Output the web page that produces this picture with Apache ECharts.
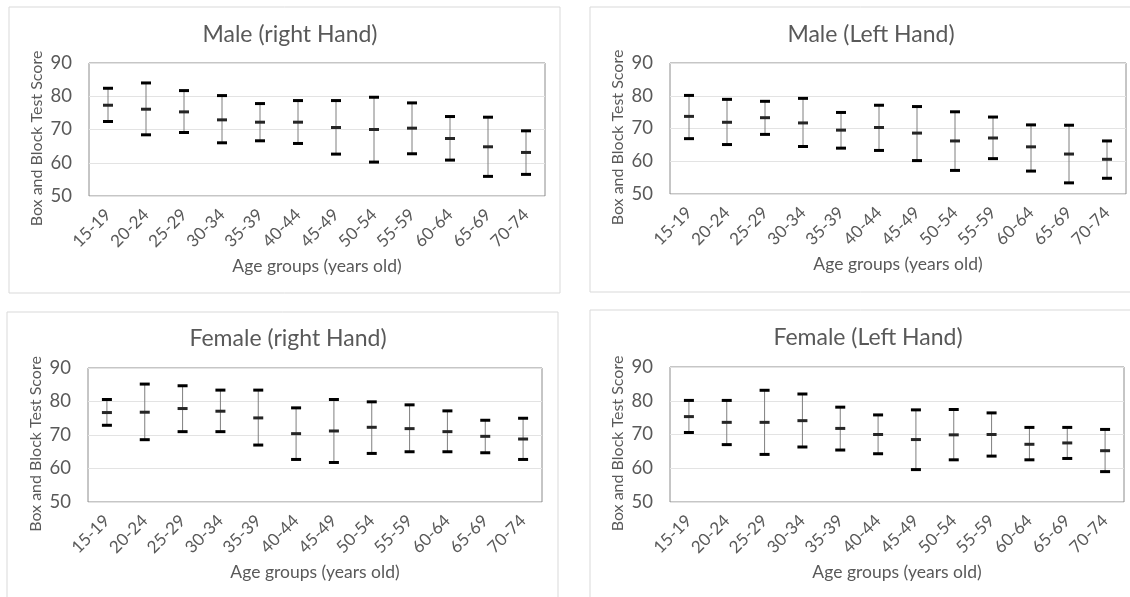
<!DOCTYPE html>
<html>
<head>
<meta charset="utf-8">
<script src="https://cdn.jsdelivr.net/npm/echarts@6/dist/echarts.min.js"></script>
<style>
	html, body { margin: 0; padding: 0; background: #fff; }
	#chart { width: 1130px; height: 597px; }
</style>
</head>
<body>
<div id="chart"></div>
<script>
	var ages = ['15-19', '20-24', '25-29', '30-34', '35-39', '40-44', '45-49', '50-54', '55-59', '60-64', '65-69', '70-74'];
	var yTicks = [50, 60, 70, 80, 90];

	var maleRightUpper = [82.4, 84.0, 81.7, 80.2, 77.8, 78.7, 78.7, 79.7, 78.0, 73.9, 73.7, 69.6];
	var maleRightMean  = [77.3, 76.1, 75.3, 72.9, 72.2, 72.2, 70.6, 70.0, 70.4, 67.3, 64.8, 63.1];
	var maleRightLower = [72.4, 68.4, 69.1, 66.0, 66.6, 65.8, 62.6, 60.2, 62.7, 60.8, 55.9, 56.5];

	var maleLeftUpper = [80.1, 78.9, 78.3, 79.2, 74.9, 77.1, 76.7, 75.1, 73.5, 71.1, 71.0, 66.2];
	var maleLeftMean  = [73.7, 71.9, 73.3, 71.7, 69.5, 70.3, 68.6, 66.2, 67.1, 64.4, 62.2, 60.6];
	var maleLeftLower = [66.9, 65.1, 68.2, 64.5, 64.0, 63.3, 60.2, 57.2, 60.8, 57.0, 53.4, 54.8];

	var femaleRightUpper = [80.6, 85.2, 84.7, 83.4, 83.4, 78.1, 80.6, 79.9, 79.0, 77.2, 74.4, 75.0];
	var femaleRightMean  = [76.7, 76.8, 77.9, 77.1, 75.1, 70.4, 71.2, 72.3, 71.9, 71.0, 69.6, 68.8];
	var femaleRightLower = [72.9, 68.6, 71.0, 71.0, 67.0, 62.7, 61.8, 64.5, 65.0, 65.0, 64.7, 62.7];

	var femaleLeftUpper = [80.1, 80.1, 83.1, 82.0, 78.1, 75.8, 77.3, 77.4, 76.4, 72.1, 72.1, 71.5];
	var femaleLeftMean  = [75.3, 73.6, 73.6, 74.1, 71.8, 70.0, 68.5, 69.9, 70.0, 67.1, 67.5, 65.2];
	var femaleLeftLower = [70.6, 67.0, 64.1, 66.3, 65.4, 64.3, 59.6, 62.5, 63.6, 62.5, 62.9, 59.0];

	var panels = [
		{title: 'Male (right Hand)', lower: maleRightLower, mean: maleRightMean, upper: maleRightUpper,
			grid: {left: 89, top: 63, width: 456, height: 133}, tx: 285, ty: 18, box: [9, 7, 551, 286]},
		{title: 'Male (Left Hand)', lower: maleLeftLower, mean: maleLeftMean, upper: maleLeftUpper,
			grid: {left: 670, top: 63, width: 456, height: 131}, tx: 866, ty: 18, box: [590, 7, 560, 285]},
		{title: 'Female (right Hand)', lower: femaleRightLower, mean: femaleRightMean, upper: femaleRightUpper,
			grid: {left: 88, top: 368, width: 454, height: 134}, tx: 283, ty: 322, box: [7, 312, 551, 300]},
		{title: 'Female (Left Hand)', lower: femaleLeftLower, mean: femaleLeftMean, upper: femaleLeftUpper,
			grid: {left: 670, top: 367, width: 454, height: 135}, tx: 863, ty: 321, box: [590, 310, 560, 300]}
	];

	var font = 'Lato, "Open Sans", sans-serif';
	var textColor = '#595959';

	function renderErrorBar(params, api){
		var i = api.value(0);
		var lo = api.coord([i, api.value(1)]);
		var mid = api.coord([i, api.value(2)]);
		var hi = api.coord([i, api.value(3)]);
		var w = 5;
		var cap = function(p, color){
			return {type: 'line', shape: {x1: p[0] - w, y1: p[1], x2: p[0] + w, y2: p[1]},
				style: {stroke: color, lineWidth: 3}};
		};
		return {
			type: 'group',
			children: [
				{type: 'line', shape: {x1: hi[0], y1: hi[1], x2: lo[0], y2: lo[1]}, style: {stroke: '#7f7f7f', lineWidth: 1}},
				cap(hi, '#000'),
				cap(lo, '#000'),
				cap(mid, '#262626')
			]
		};
	}

	var option = {
		backgroundColor: '#fff',
		animation: false,
		title: [],
		grid: [],
		xAxis: [],
		yAxis: [],
		series: [],
		graphic: []
	};

	panels.forEach(function(p, k){
		option.graphic.push({
			type: 'rect', z: -10,
			shape: {x: p.box[0], y: p.box[1], width: p.box[2], height: p.box[3]},
			style: {fill: '#fff', stroke: '#d9d9d9', lineWidth: 1}
		});
		option.title.push({
			text: p.title, left: p.tx, top: p.ty, textAlign: 'center',
			textStyle: {fontFamily: font, fontSize: 23, fontWeight: 'normal', color: textColor}
		});
		option.grid.push(Object.assign({show: true, borderColor: '#8c8c8c', borderWidth: 1, backgroundColor: 'transparent'}, p.grid));
		option.xAxis.push({
			type: 'category', gridIndex: k, data: ages, boundaryGap: true,
			name: 'Age groups (years old)', nameLocation: 'middle', nameGap: 61,
			nameTextStyle: {fontFamily: font, fontSize: 17.5, color: textColor},
			axisLine: {show: false}, axisTick: {show: false},
			axisLabel: {rotate: 45, interval: 0, margin: 16, fontFamily: font, fontSize: 17, color: textColor}
		});
		option.yAxis.push({
			type: 'value', gridIndex: k, min: yTicks[0], max: yTicks[yTicks.length - 1], interval: 10,
			name: 'Box and Block Test Score', nameLocation: 'middle', nameGap: 44,
			nameTextStyle: {fontFamily: font, fontSize: 16, color: textColor, padding: [0, 18, 0, 0]},
			axisLine: {show: false}, axisTick: {show: false},
			axisLabel: {margin: 17, fontFamily: font, fontSize: 18.5, color: textColor},
			splitLine: {lineStyle: {color: '#e3e3e3', width: 1}}
		});
		option.series.push({
			type: 'custom', xAxisIndex: k, yAxisIndex: k,
			renderItem: renderErrorBar,
			encode: {x: 0, y: [1, 2, 3]},
			data: ages.map(function(a, i){ return [i, p.lower[i], p.mean[i], p.upper[i]]; })
		});
	});

	var chart = echarts.init(document.getElementById('chart'));
	chart.setOption(option);
</script>
</body>
</html>
